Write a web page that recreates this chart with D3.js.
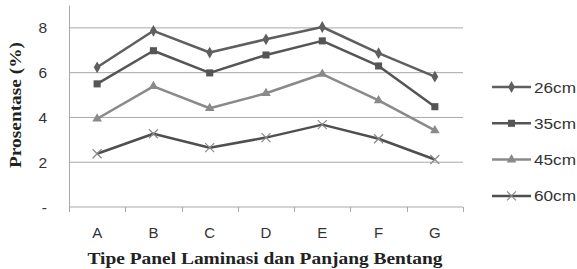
<!DOCTYPE html>
<html>
<head>
<meta charset="utf-8">
<script src="https://cdn.jsdelivr.net/npm/d3@7"></script>
<style>
 body { margin: 0; background: #fff; }
 svg { display: block; }
</style>
</head>
<body>
<svg id="chart" width="577" height="269"></svg>
<script>
// data
const categories = ["A", "B", "C", "D", "E", "F", "G"];
const seriesNames = ["26cm", "35cm", "45cm", "60cm"];
const s26 = [6.24, 7.87, 6.9, 7.49, 8.04, 6.87, 5.82];
const s35 = [5.5, 6.98, 5.99, 6.79, 7.42, 6.3, 4.48];
const s45 = [3.94, 5.39, 4.41, 5.08, 5.94, 4.76, 3.42];
const s60 = [2.38, 3.27, 2.65, 3.1, 3.68, 3.05, 2.12];
const yTicks = [0, 2, 4, 6, 8];

const series = [
  { name: seriesNames[0], values: s26, color: "#5f5f5f", symbol: d3.symbolDiamond, size: 40 },
  { name: seriesNames[1], values: s35, color: "#555555", symbol: d3.symbolSquare, size: 50 },
  { name: seriesNames[2], values: s45, color: "#8a8a8a", symbol: d3.symbolTriangle, size: 40 },
  { name: seriesNames[3], values: s60, color: "#4f4f4f", symbol: "x", size: 0 }
];

const svg = d3.select("#chart");
const m = { left: 69, right: 463, top: 5.5, bottom: 207 };
const sans = "Liberation Sans, Arial, sans-serif";
const serif = "Liberation Serif, Times New Roman, serif";

const x = d3.scaleBand().domain(categories).range([m.left, m.right]);
const y = d3.scaleLinear().domain([0, 9]).range([m.bottom, m.top]);

// gridlines
svg.append("g").selectAll("line")
  .data(yTicks.filter(d => d > 0))
  .join("line")
  .attr("x1", m.left).attr("x2", m.right)
  .attr("y1", d => y(d)).attr("y2", d => y(d))
  .attr("stroke", "#a8a8a8").attr("stroke-width", 1);

// y axis line
svg.append("line")
  .attr("x1", m.left + 0.5).attr("x2", m.left + 0.5)
  .attr("y1", m.top).attr("y2", m.bottom)
  .attr("stroke", "#a8a8a8");

// x axis
const xAxis = svg.append("g")
  .attr("transform", `translate(0,${m.bottom})`);
xAxis.append("line")
  .attr("x1", m.left).attr("x2", m.right)
  .attr("stroke", "#a8a8a8");
const bounds = d3.range(categories.length + 1).map(i => m.left + i * x.bandwidth());
xAxis.selectAll("line.tk").data(bounds).join("line")
  .attr("class", "tk")
  .attr("x1", d => Math.round(d) + 0.5).attr("x2", d => Math.round(d) + 0.5)
  .attr("y1", 0).attr("y2", 5)
  .attr("stroke", "#a8a8a8");
xAxis.selectAll("text").data(categories).join("text")
  .attr("x", d => x(d) + x.bandwidth() / 2)
  .attr("y", 31)
  .attr("text-anchor", "middle")
  .attr("font-family", sans)
  .attr("font-size", 15)
  .attr("fill", "#333")
  .text(d => d);

// y labels
svg.append("g").selectAll("text")
  .data(yTicks)
  .join("text")
  .attr("x", 47)
  .attr("y", d => y(d) + 5.5)
  .attr("text-anchor", "end")
  .attr("font-family", sans)
  .attr("font-size", 15.5)
  .attr("fill", "#333")
  .text(d => d === 0 ? "-" : d);

// axis titles
svg.append("text")
  .attr("transform", `translate(21,${105}) rotate(-90)`)
  .attr("text-anchor", "middle")
  .attr("font-family", serif)
  .attr("font-weight", "bold")
  .attr("font-size", 16)
  .attr("textLength", 126)
  .attr("lengthAdjust", "spacingAndGlyphs")
  .attr("fill", "#222")
  .text("Prosentase (%)");

svg.append("text")
  .attr("x", 265).attr("y", 264)
  .attr("text-anchor", "middle")
  .attr("font-family", serif)
  .attr("font-weight", "bold")
  .attr("font-size", 16)
  .attr("textLength", 355)
  .attr("lengthAdjust", "spacingAndGlyphs")
  .attr("fill", "#222")
  .text("Tipe  Panel Laminasi dan Panjang Bentang");

const line = d3.line()
  .x((d, i) => x(categories[i]) + x.bandwidth() / 2)
  .y(d => y(d));

function drawMarker(g, s, cx, cy) {
  if (s.symbol === "x") {
    g.append("path")
      .attr("d", `M${cx - 4.5},${cy - 4.5}L${cx + 4.5},${cy + 4.5}M${cx - 4.5},${cy + 4.5}L${cx + 4.5},${cy - 4.5}`)
      .attr("stroke", "#8a8a8a").attr("stroke-width", 1.2).attr("fill", "none");
  } else {
    g.append("path")
      .attr("d", d3.symbol(s.symbol, s.size)())
      .attr("transform", `translate(${cx},${cy})`)
      .attr("fill", s.color);
  }
}

series.forEach(s => {
  const g = svg.append("g");
  g.append("path")
    .datum(s.values)
    .attr("d", line)
    .attr("fill", "none")
    .attr("stroke", s.color)
    .attr("stroke-width", 2.5)
    .attr("stroke-linejoin", "round");
  s.values.forEach((v, i) => drawMarker(g, s, x(categories[i]) + x.bandwidth() / 2, y(v)));
});

// legend
const legend = svg.append("g");
series.forEach((s, i) => {
  const ly = 87 + i * 36.3;
  const g = legend.append("g");
  g.append("line")
    .attr("x1", 492).attr("x2", 531)
    .attr("y1", ly).attr("y2", ly)
    .attr("stroke", s.color).attr("stroke-width", 2.5);
  drawMarker(g, s, 511.5, ly);
  g.append("text")
    .attr("x", 534).attr("y", ly + 5.5)
    .attr("font-family", sans)
    .attr("font-size", 15.5)
    .attr("textLength", 42)
    .attr("lengthAdjust", "spacingAndGlyphs")
    .attr("fill", "#333")
    .text(s.name);
});
</script>
</body>
</html>
